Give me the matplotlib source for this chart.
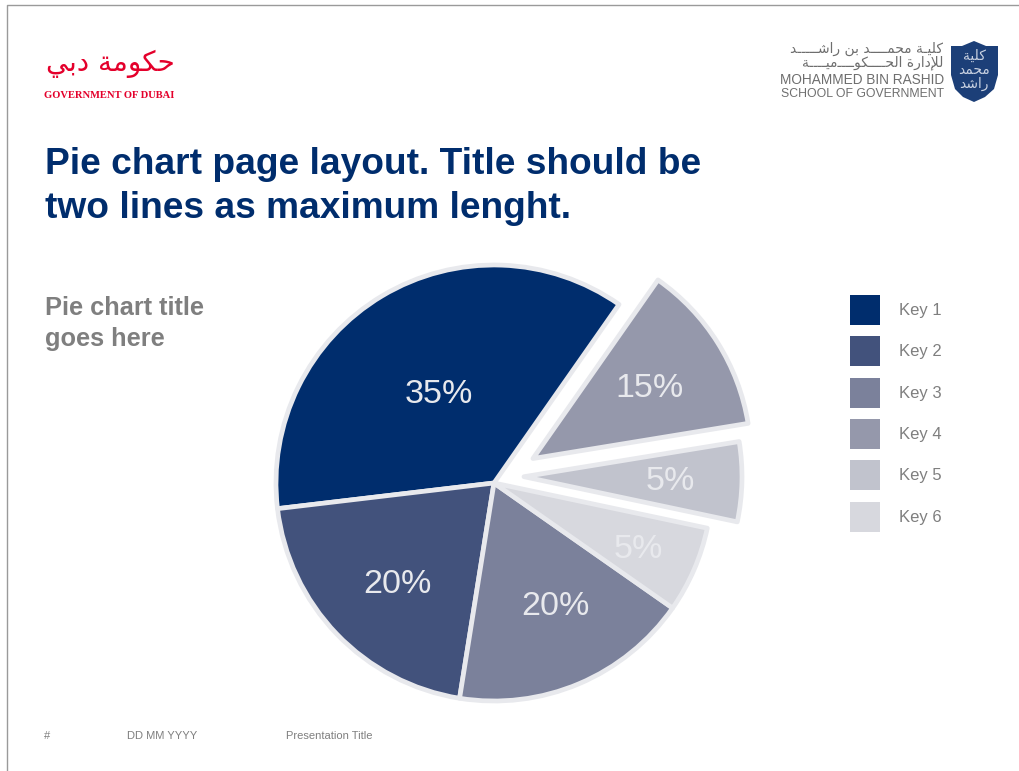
import math

import matplotlib
matplotlib.use("Agg")
import matplotlib.pyplot as plt
from matplotlib.patches import Patch, Polygon

plt.rcParams['font.family'] = ['Liberation Sans', 'DejaVu Sans']

# slice shares as drawn on the page (the printed labels are rounded differently)
SHARES = [36.6, 20.6, 17.8, 6.4, 5.9, 12.7]
PIE_LABELS = ["35%", "20%", "20%", "5%", "5%", "15%"]
PIE_COLORS = ["#002D6D", "#42527C", "#7B819B", "#D7D8DE", "#C1C3CD", "#9598AB"]
# pie() shifts by these in data units, and the axes here are in pixels
EXPLODE = [0, 0, 0, 0, 30, 46]
LABEL_DIST = [0.49, 0.63, 0.62, 0.72, 0.67, 0.63]
LABEL_TURN = [0, 1.7, 4, 0, 1, 0]

KEYS = ["Key 1", "Key 2", "Key 3", "Key 4", "Key 5", "Key 6"]
KEY_COLORS = ["#002D6D", "#42527C", "#7B819B", "#9598AB", "#C1C3CD", "#D7D8DE"]

NAVY = "#002D6D"
GREY = "#7F7F7F"
EDGE = "#E8E9ED"
RED = "#E4002B"
LOGO_GREY = "#6E6E6E"

# Arabic logo text in presentation forms, visual order (matplotlib does no shaping)
AR_DUBAI = "\uFEF2\uFE91\uFEA9 \uFE94\uFEE3\uFEEE\uFEDC\uFEA3"
AR_SCHOOL_1 = ("\uFEAA\u0640\u0640\u0640\u0640\u0640\uFEB7\uFE8D\uFEAD \uFEE6\uFE91 "
               "\uFEAA\u0640\u0640\u0640\u0640\uFEE4\uFEA4\uFEE3 \uFE94\u0640\uFEF4\uFEE0\uFEDB")
AR_SCHOOL_2 = ("\uFE94\u0640\u0640\u0640\u0640\uFEF4\uFEE3\u0640\u0640\u0640\u0640\uFEEE"
               "\uFEDC\u0640\u0640\u0640\u0640\uFEA4\uFEDF\uFE8D \uFE93\uFEAD\uFE8D\uFEA9\uFEFA\uFEDF")
AR_SHIELD = ["\uFE94\uFEF4\uFEE0\uFEDB", "\uFEAA\uFEE4\uFEA4\uFEE3", "\uFEAA\uFEB7\uFE8D\uFEAD"]

fig = plt.figure(figsize=(10.2, 7.71), dpi=100)
ax = fig.add_axes([0, 0, 1, 1])


def y_px(y):
    return 771 - y


wedges, _ = ax.pie(SHARES, colors=PIE_COLORS, explode=EXPLODE, startangle=55,
                   counterclock=True, center=(494, y_px(483)), radius=218,
                   frame=False, wedgeprops=dict(edgecolor=EDGE, linewidth=3.4, joinstyle='round'))
# the lighter exploded slice sits a little higher than its bisector
cx, cy = wedges[4].center
wedges[4].set_center((cx, cy + 7))

ax.set_xlim(0, 1020)
ax.set_ylim(0, 771)
ax.set_aspect('equal')
ax.axis('off')

for w, lab, dist, turn in zip(wedges, PIE_LABELS, LABEL_DIST, LABEL_TURN):
    mid = math.radians((w.theta1 + w.theta2) / 2 + turn)
    x = w.center[0] + dist * w.r * math.cos(mid)
    y = w.center[1] + dist * w.r * math.sin(mid)
    ax.text(x, y, lab, color=EDGE, fontsize=24.5, ha='center', va='center_baseline')

# page frame
ax.plot([7, 7, 1020], [0, y_px(5), y_px(5)], color="#9A9A9A", linewidth=1)

ax.text(45, y_px(164), "Pie chart page layout. Title should be", color=NAVY,
        fontsize=26.7, fontweight='bold', va='center')
ax.text(45, y_px(209), "two lines as maximum lenght.", color=NAVY,
        fontsize=26.7, fontweight='bold', va='center')
ax.text(45, y_px(308), "Pie chart title", color=GREY, fontsize=18.3, fontweight='bold', va='center')
ax.text(45, y_px(339), "goes here", color=GREY, fontsize=18.3, fontweight='bold', va='center')

ax.text(44, y_px(736), "#", color=GREY, fontsize=8, va='center')
ax.text(127, y_px(736), "DD MM YYYY", color=GREY, fontsize=8, va='center')
ax.text(286, y_px(736), "Presentation Title", color=GREY, fontsize=8, va='center')

handles = [Patch(facecolor=c, edgecolor='none') for c in KEY_COLORS]
ax.legend(handles, KEYS, loc='upper left', bbox_to_anchor=(850 / 1020, 1 - 295 / 771),
          frameon=False, fontsize=12, labelcolor=GREY, handlelength=1.8, handleheight=2.39,
          labelspacing=0.68, handletextpad=1.14, borderpad=0, borderaxespad=0)

# Dubai government logo
ax.text(110, y_px(64), AR_DUBAI, color=RED, fontsize=20, family='DejaVu Sans',
        ha='center', va='center')
ax.text(109, y_px(95), "GOVERNMENT OF DUBAI", color=RED, fontsize=7.6, fontweight='bold',
        family='Liberation Serif', ha='center', va='center')

# school logo
ax.text(943, y_px(49), AR_SCHOOL_1, color=LOGO_GREY, fontsize=10, family='DejaVu Sans',
        ha='right', va='center')
ax.text(943, y_px(63), AR_SCHOOL_2, color=LOGO_GREY, fontsize=10, family='DejaVu Sans',
        ha='right', va='center')
ax.text(944, y_px(80), "MOHAMMED BIN RASHID", color=LOGO_GREY, fontsize=9.8, ha='right', va='center')
ax.text(944, y_px(94), "SCHOOL OF GOVERNMENT", color=LOGO_GREY, fontsize=8.85, ha='right', va='center')

shield = [(951, 46), (962, 46), (974, 41), (986, 46), (998, 46), (998, 75),
          (994, 89), (985, 97), (974, 102), (963, 97), (955, 89), (951, 75)]
ax.add_patch(Polygon([(x, y_px(y)) for x, y in shield], closed=True, facecolor="#1C3F78",
                     edgecolor='none'))
for y, line in zip([56, 70, 84], AR_SHIELD):
    ax.text(974, y_px(y), line, color="#C9D2E2", fontsize=10, family='DejaVu Sans',
            ha='center', va='center')

fig.savefig("out.png", dpi=100)
